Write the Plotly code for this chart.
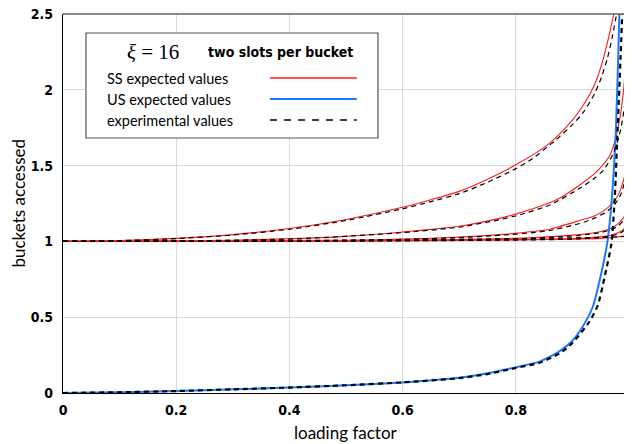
import plotly.graph_objects as go

# ---- data ----
ss1_x = [0, 0.1, 0.2, 0.3, 0.4, 0.5, 0.6, 0.65, 0.7, 0.75, 0.8, 0.85, 0.875, 0.9, 0.915, 0.93, 0.942, 0.952, 0.961, 0.968, 0.974, 0.98]
ss1_y = [1.0, 1.005, 1.02, 1.045, 1.085, 1.145, 1.225, 1.275, 1.33, 1.41, 1.505, 1.62, 1.70, 1.80, 1.875, 1.965, 2.06, 2.17, 2.3, 2.41, 2.52, 2.65]
ex1_x = [0, 0.1, 0.2, 0.3, 0.4, 0.5, 0.6, 0.65, 0.7, 0.75, 0.8, 0.83, 0.871, 0.9, 0.92, 0.94, 0.952, 0.962, 0.97, 0.978, 0.985]
ex1_y = [1.0, 1.005, 1.018, 1.042, 1.08, 1.138, 1.215, 1.262, 1.315, 1.39, 1.48, 1.548, 1.67, 1.77, 1.855, 1.98, 2.09, 2.21, 2.34, 2.5, 2.68]

ss2_x = [0, 0.2, 0.3, 0.42, 0.5, 0.6, 0.7, 0.771, 0.804, 0.86, 0.877, 0.913, 0.94, 0.955, 0.965, 0.975, 0.985, 0.991, 0.995, 0.998]
ss2_y = [1.0, 1.003, 1.008, 1.02, 1.033, 1.062, 1.1, 1.152, 1.185, 1.255, 1.284, 1.372, 1.45, 1.51, 1.56, 1.66, 1.84, 2.02, 2.25, 2.5]
ex2_x = [0, 0.2, 0.42, 0.6, 0.7, 0.771, 0.804, 0.86, 0.913, 0.94, 0.955, 0.971, 0.98, 0.987, 0.993, 0.997, 0.9995]
ex2_y = [1.0, 1.003, 1.018, 1.058, 1.094, 1.143, 1.172, 1.24, 1.35, 1.42, 1.47, 1.57, 1.66, 1.77, 1.92, 2.03, 2.12]

ss3_x = [0, 0.3, 0.5, 0.6, 0.7, 0.771, 0.83, 0.86, 0.913, 0.94, 0.96, 0.975, 0.985, 0.99, 0.995, 0.998]
ss3_y = [1.0, 1.003, 1.008, 1.015, 1.028, 1.045, 1.065, 1.08, 1.138, 1.17, 1.215, 1.27, 1.34, 1.40, 1.47, 1.52]
ex3_x = [0, 0.3, 0.5, 0.6, 0.7, 0.771, 0.83, 0.86, 0.913, 0.94, 0.96, 0.975, 0.985, 0.99, 0.995, 0.999]
ex3_y = [1.0, 1.003, 1.007, 1.013, 1.025, 1.04, 1.058, 1.072, 1.118, 1.155, 1.195, 1.245, 1.305, 1.36, 1.43, 1.5]

ss4_x = [0, 0.5, 0.7, 0.8, 0.877, 0.913, 0.95, 0.97, 0.982, 0.989, 0.995, 0.998]
ss4_y = [1.0, 1.004, 1.012, 1.02, 1.035, 1.045, 1.065, 1.09, 1.12, 1.15, 1.19, 1.22]
ex4_x = [0, 0.5, 0.7, 0.8, 0.877, 0.913, 0.95, 0.97, 0.982, 0.989, 0.995, 0.999]
ex4_y = [1.0, 1.003, 1.01, 1.017, 1.03, 1.04, 1.058, 1.08, 1.105, 1.135, 1.17, 1.2]

ss5_x = [0, 0.5, 0.8, 0.9, 0.95, 0.97, 0.985, 0.993, 0.998]
ss5_y = [1.0, 1.002, 1.01, 1.018, 1.03, 1.042, 1.065, 1.09, 1.11]
ex5_x = [0, 0.5, 0.8, 0.9, 0.95, 0.97, 0.985, 0.993, 0.999]
ex5_y = [1.0, 1.002, 1.009, 1.015, 1.026, 1.036, 1.055, 1.078, 1.1]

ss6_x = [0, 0.5, 0.8, 0.95, 0.99, 1.0]
ss6_y = [1.0, 1.005, 1.012, 1.02, 1.035, 1.05]
ex6_x = [0, 0.5, 0.8, 0.95, 0.99, 1.0]
ex6_y = [1.0, 1.008, 1.018, 1.027, 1.032, 1.035]

us_x = [0, 0.1, 0.2, 0.3, 0.4, 0.5, 0.6, 0.7, 0.75, 0.8, 0.842, 0.877, 0.9, 0.918, 0.936, 0.951, 0.962, 0.97, 0.977, 0.983, 0.986]
us_y = [0, 0.005, 0.013, 0.024, 0.036, 0.051, 0.07, 0.1, 0.13, 0.17, 0.207, 0.275, 0.345, 0.437, 0.569, 0.79, 1.0, 1.3, 1.75, 2.5, 3.0]
exus_x = [0, 0.1, 0.2, 0.3, 0.4, 0.5, 0.6, 0.7, 0.75, 0.8, 0.842, 0.877, 0.9, 0.93, 0.945, 0.957, 0.969, 0.975, 0.98, 0.985, 0.988]
exus_y = [0, 0.005, 0.013, 0.024, 0.036, 0.051, 0.07, 0.098, 0.125, 0.165, 0.2, 0.26, 0.33, 0.47, 0.58, 0.767, 0.987, 1.3, 1.75, 2.2, 2.5]

x_ticks = [0, 0.2, 0.4, 0.6, 0.8, 1]
x_tick_labels = ["0", "0.2", "0.4", "0.6", "0.8", "1"]
y_ticks = [0, 0.5, 1, 1.5, 2, 2.5]
y_tick_labels = ["0", "0.5", "1", "1.5", "2", "2.5"]

RED = "#ff1a1a"
BLUE = "#1a7aff"
DASH = "5px,4px"

fig = go.Figure()
ss_series = [(ss1_x, ss1_y), (ss2_x, ss2_y), (ss3_x, ss3_y), (ss4_x, ss4_y), (ss5_x, ss5_y), (ss6_x, ss6_y)]
ex_series = [(ex1_x, ex1_y), (ex2_x, ex2_y), (ex3_x, ex3_y), (ex4_x, ex4_y), (ex5_x, ex5_y), (ex6_x, ex6_y)]

for sx, sy in ss_series:
    fig.add_trace(go.Scatter(x=sx, y=sy, mode="lines", line=dict(color=RED, width=1.1, shape="spline", smoothing=0.6),
                             showlegend=False, hoverinfo="skip"))
fig.add_trace(go.Scatter(x=us_x, y=us_y, mode="lines", line=dict(color=BLUE, width=2, shape="spline", smoothing=0.6),
                         showlegend=False, hoverinfo="skip"))
for sx, sy in ex_series:
    fig.add_trace(go.Scatter(x=sx, y=sy, mode="lines", line=dict(color="black", width=1.2, dash=DASH, shape="spline", smoothing=0.6),
                             showlegend=False, hoverinfo="skip"))
fig.add_trace(go.Scatter(x=exus_x, y=exus_y, mode="lines", line=dict(color="black", width=2.2, dash=DASH, shape="spline", smoothing=0.6),
                         showlegend=False, hoverinfo="skip"))

TICKFONT = dict(family="Liberation Sans Narrow, DejaVu Sans Condensed, sans-serif", size=14, color="black", weight="bold")

fig.update_xaxes(range=[0, 1], tickvals=x_ticks, ticktext=x_tick_labels, tickfont=TICKFONT, automargin=False,
                 ticklabeloverflow="allow",
                 showgrid=True, gridcolor="#d9d9d9", gridwidth=1, zeroline=False,
                 showline=True, linecolor="black", linewidth=1.2, ticks="", ticklabelstandoff=4)
fig.update_yaxes(range=[0, 2.5], tickvals=y_ticks, ticktext=y_tick_labels, tickfont=TICKFONT, automargin=False,
                 ticklabeloverflow="allow",
                 showgrid=True, gridcolor="#d9d9d9", gridwidth=1, zeroline=False,
                 showline=True, linecolor="black", linewidth=1.2, ticks="", ticklabelstandoff=6)

shapes = [
    # top and right frame
    dict(type="line", xref="paper", yref="paper", x0=0, x1=1, y0=1, y1=1, line=dict(color="#666666", width=1.5)),
    dict(type="line", xref="paper", yref="paper", x0=1, x1=1, y0=0, y1=1, line=dict(color="#666666", width=1.2)),
    # legend box
    dict(type="rect", xref="paper", yref="paper", x0=0.0406, x1=0.5565, y0=0.6728, y1=0.9499,
         line=dict(color="#555555", width=1.2), fillcolor="white", layer="above"),
    dict(type="line", xref="paper", yref="paper", x0=0.3657, x1=0.5189, y0=0.8311, y1=0.8311,
         line=dict(color=RED, width=1.6), layer="above"),
    dict(type="line", xref="paper", yref="paper", x0=0.3657, x1=0.5189, y0=0.7757, y1=0.7757,
         line=dict(color=BLUE, width=1.8), layer="above"),
    dict(type="line", xref="paper", yref="paper", x0=0.3657, x1=0.5189, y0=0.7203, y1=0.7203,
         line=dict(color="black", width=1.3, dash="7px,7px"), layer="above"),
]

LEGFONT = dict(family="Lato, DejaVu Sans, sans-serif", size=14.5, color="black")
annotations = [
    dict(text="<i>ξ</i> = 16", xref="paper", yref="paper", x=0.1590, y=0.9003, xanchor="center", yanchor="middle",
         showarrow=False, font=dict(family="Liberation Serif, DejaVu Serif, serif", size=21, color="black")),
    dict(text="<b>two slots per bucket</b>", xref="paper", yref="paper", x=0.3835, y=0.9003, xanchor="center", yanchor="middle",
         showarrow=False, font=dict(family="Liberation Sans Narrow, DejaVu Sans Condensed, sans-serif", size=14, color="black")),
    dict(text="SS expected values", xref="paper", yref="paper", x=0.0742, y=0.8311, xanchor="left", yanchor="middle",
         showarrow=False, font=LEGFONT),
    dict(text="US expected values", xref="paper", yref="paper", x=0.0742, y=0.7757, xanchor="left", yanchor="middle",
         showarrow=False, font=LEGFONT),
    dict(text="experimental values", xref="paper", yref="paper", x=0.0742, y=0.7203, xanchor="left", yanchor="middle",
         showarrow=False, font=LEGFONT),
    dict(text="loading factor", xref="paper", yref="paper", x=0.5, y=0, xanchor="center", yanchor="middle",
         yshift=-39, showarrow=False, font=dict(family="Lato, DejaVu Sans, sans-serif", size=17, color="black")),
    dict(text="buckets accessed", xref="paper", yref="paper", x=0, y=0.5, xanchor="center", yanchor="middle",
         xshift=-45, textangle=-90, showarrow=False, font=dict(family="Lato, DejaVu Sans, sans-serif", size=17, color="black")),
]

# The page body adds an 8px offset; size the figure so it fits the 632x444 window.
fig.update_layout(width=624, height=436, margin=dict(l=55, r=3, t=6, b=51),
                  paper_bgcolor="white", plot_bgcolor="white",
                  shapes=shapes, annotations=annotations, showlegend=False)

fig.write_html("out.html")
